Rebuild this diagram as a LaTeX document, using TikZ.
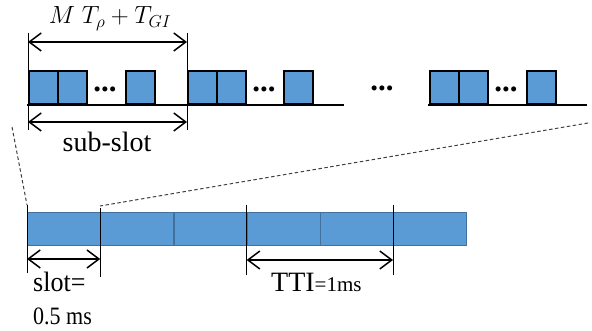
\documentclass[tikz,border=0pt]{standalone}
\usepackage{fontspec}
\setmainfont{Liberation Serif}
\usetikzlibrary{arrows.meta}
\definecolor{pblue}{HTML}{5B9BD5}
\definecolor{bline}{HTML}{41719C}
\tikzset{
  pkt/.style={draw=black, fill=pblue, line width=2.2pt, minimum width=29pt, minimum height=33pt, inner sep=0pt, anchor=south west},
  slotbox/.style={draw=bline, fill=pblue, line width=1.2pt, minimum width=73.2pt, minimum height=33pt, inner sep=0pt, anchor=north west},
  base/.style={line width=2.2pt, line cap=rect},
  dim/.style={line width=1.5pt, {Straight Barb[length=12pt,width=18pt]}-{Straight Barb[length=12pt,width=18pt]}},
  tick/.style={line width=0.9pt, black},
  zoomline/.style={dash pattern=on 3.5pt off 2.5pt, line width=1pt, black!75},
  dots/.style={font=\fontsize{31}{31}\selectfont\bfseries, inner sep=0pt, anchor=base},
  lab/.style={font=\fontsize{28}{30}\selectfont, inner sep=0pt, anchor=base}
}
\begin{document}
\begin{tikzpicture}[x=1pt,y=-1pt]
\useasboundingbox (0,0) rectangle (592,331);
% top row
\foreach \n/\x in {a1/28,a2/57,a3/125,b1/187,b2/216,b3/283,c1/429,c2/458,c3/526}{
  \node[pkt] (\n) at (\x,105) {};
}
\coordinate (ae) at (187,105);
\coordinate (be) at (343,105);
\coordinate (ce) at (586,105);
\draw[base] (a1.south west) -- (ae);
\draw[base] (b1.south west) -- (be);
\draw[base] (c1.south west) -- (ce);
\node[dots] (d1) at (105,92) {...};
\node[dots] (d2) at (264,92) {...};
\node[dots] (d3) at (382,91) {...};
\node[dots] (d4) at (506,92) {...};
% top dimension lines
\coordinate (t1) at (28,33);
\coordinate (t1b) at (28,130);
\coordinate (t2) at (187,33);
\coordinate (t2b) at (187,130);
\draw[tick] (t1) -- (t1b);
\draw[tick] (t2) -- (t2b);
\coordinate (m1) at (28,42);
\coordinate (m2) at (187,42);
\draw[dim] (m1) -- (m2);
\coordinate (s1) at (28,122);
\coordinate (s2) at (187,122);
\draw[dim] (s1) -- (s2);
\node[font=\fontsize{27}{28}\selectfont, inner sep=0pt] (mt) at (110,19) {$M\;T_\rho+T_{GI}$};
\node[lab] (sub) at (107,152) {sub-slot};
% bottom bar
\foreach \n/\x in {e1/27,e2/100.2,e3/173.4,e4/246.6,e5/319.8,e6/393}{
  \node[slotbox] (\n) at (\x,212) {};
}
% zoom lines
\coordinate (z1) at (12,127);
\coordinate (z2) at (588,123);
\coordinate (z3) at (27,205);
\coordinate (z4) at (100,206);
\draw[zoomline] (z1) -- (z3);
\draw[zoomline] (z2) -- (z4);
% bottom ticks
\coordinate (u1) at (27,205);  \coordinate (u1b) at (27,273);
\coordinate (u2) at (100.2,208); \coordinate (u2b) at (100.2,277);
\coordinate (u3) at (246.6,205); \coordinate (u3b) at (246.6,275);
\coordinate (u4) at (393,205); \coordinate (u4b) at (393,275);
\draw[tick] (u1) -- (u1b);
\draw[tick] (u2) -- (u2b);
\draw[tick] (u3) -- (u3b);
\draw[tick] (u4) -- (u4b);
\coordinate (v1) at (27,259); \coordinate (v2) at (100.2,259);
\draw[dim] (v1) -- (v2);
\coordinate (w1) at (246.6,260); \coordinate (w2) at (393,260);
\draw[dim] (w1) -- (w2);
\node[lab, anchor=base west] (slot) at (33,291) {\scalebox{0.93}[1]{slot=}};
\node[lab, anchor=base west, font=\fontsize{25}{26}\selectfont] (half) at (33,324) {\scalebox{0.88}[1]{0.5 ms}};
\node[lab, anchor=base west] (tti) at (271,291) {TTI{\fontsize{21}{22}\selectfont =1ms}};
\end{tikzpicture}
\end{document}
